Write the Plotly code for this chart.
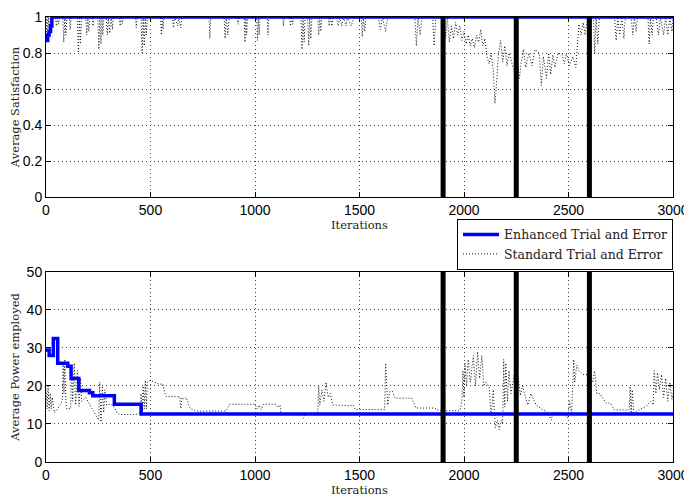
import plotly.graph_objects as go
from plotly.subplots import make_subplots

# ---------------- data ----------------
x_ticks = [0, 500, 1000, 1500, 2000, 2500, 3000]
sat_ticks = [0, 0.2, 0.4, 0.6, 0.8, 1]
sat_tick_labels = ["0", "0.2", "0.4", "0.6", "0.8", "1"]
pow_ticks = [0, 10, 20, 30, 40, 50]

event_iters = [1900, 2250, 2600]

enh_sat_x = [0, 8, 15, 22, 28, 3000]
enh_sat_y = [0.87, 0.90, 0.92, 0.95, 1.0, 1.0]

std_sat_x = [0, 5, 8, 12, 15, 20,
             45, 50, 55, 60, 65,
             80, 85, 90, 95, 100,
             112, 116, 120,
             150, 155, 160, 165, 170,
             190, 195, 200, 205, 210,
             222, 225, 230,
             248, 253, 258, 263, 268, 272, 276,
             288, 293, 298, 305, 312, 318, 322,
             350, 355, 360, 365, 370,
             428, 432, 436,
             455, 460, 465, 470, 475, 480, 485,
             548, 552, 556, 560, 564,
             605, 610, 615, 630, 635, 645, 650,
             780, 784, 788,
             852, 857, 862, 870, 876,
             915, 919, 923,
             948, 952, 956, 960, 964,
             1008, 1012, 1016, 1020, 1024,
             1058, 1062, 1066,
             1132, 1136, 1140,
             1165, 1170, 1175, 1180, 1185,
             1220, 1225, 1230, 1235, 1240,
             1252, 1257, 1262, 1267, 1272,
             1300, 1305, 1310, 1315, 1320,
             1350, 1355, 1360, 1368, 1374,
             1390, 1398, 1405, 1415, 1425, 1435, 1442, 1460, 1475,
             1508, 1513, 1518, 1525, 1530,
             1590, 1600, 1610, 1625, 1635,
             1765, 1772, 1780, 1790, 1800,
             1850, 1857, 1865,
             1905, 1912, 1920, 1930, 1940, 1950, 1960, 1970, 1980, 1990,
             2000, 2010, 2020, 2030, 2040, 2050, 2060, 2070, 2080, 2090, 2100,
             2110, 2120, 2130, 2140, 2148, 2155, 2165,
             2175, 2185, 2195, 2205, 2215, 2240,
             2252, 2258, 2265, 2275, 2285, 2295, 2310, 2325,
             2340, 2360, 2370, 2380, 2395, 2405, 2415, 2425, 2435, 2450,
             2470, 2480, 2490, 2505, 2520, 2535,
             2550, 2560, 2570, 2580, 2590,
             2620, 2625, 2632, 2640, 2648,
             2720, 2728, 2736, 2745, 2755, 2765, 2772,
             2800, 2808, 2815, 2823, 2830,
             2880, 2886, 2892, 2900, 2906,
             2920, 2930, 2940, 2955, 2965, 2975, 2985, 2995, 3000]
std_sat_y = [0.9, 1, 0.86, 1, 0.9, 1,
             1, 0.95, 1, 0.96, 1,
             1, 0.86, 1, 0.9, 1,
             1, 0.93, 1,
             1, 0.8, 1, 0.85, 1,
             1, 0.9, 1, 0.92, 1,
             1, 0.95, 1,
             1, 0.82, 1, 0.85, 1, 0.9, 1,
             1, 0.9, 1, 0.91, 1, 0.93, 1,
             1, 0.95, 1, 0.96, 1,
             1, 0.94, 1,
             1, 0.8, 1, 0.84, 1, 0.9, 1,
             1, 0.9, 1, 0.93, 1,
             1, 0.94, 1, 0.95, 1, 0.94, 1,
             1, 0.88, 1,
             1, 0.88, 1, 0.9, 1,
             1, 0.96, 1,
             1, 0.86, 1, 0.9, 1,
             1, 0.87, 1, 0.9, 1,
             1, 0.9, 1,
             1, 0.95, 1,
             1, 0.95, 1, 0.96, 1,
             1, 0.82, 1, 0.86, 1,
             1, 0.84, 1, 0.88, 1,
             1, 0.9, 1, 0.92, 1,
             1, 0.95, 1, 0.95, 1,
             1, 0.95, 1, 0.95, 1, 0.95, 1, 0.95, 1,
             1, 0.89, 1, 0.92, 1,
             1, 0.93, 1, 0.92, 1,
             1, 0.84, 1, 0.9, 1,
             1, 0.84, 1,
             1, 0.88, 1, 0.86, 0.95, 0.88, 0.97, 0.9, 0.95, 0.87,
             0.92, 0.85, 0.9, 0.84, 0.88, 0.83, 0.9, 0.86, 0.93, 0.84, 0.88,
             0.78, 0.74, 0.8, 0.7, 0.52, 0.62, 0.8,
             0.87, 0.75, 0.84, 0.73, 0.8, 0.7,
             0.6, 0.74, 0.66, 0.76, 0.82, 0.72, 0.8, 0.73,
             0.82, 0.8, 0.62, 0.78, 0.66, 0.8, 0.68, 0.79, 0.72, 0.8,
             0.79, 0.74, 0.8, 0.73, 0.78, 0.72,
             0.96, 0.9, 0.97, 0.9, 1,
             1, 0.8, 1, 0.85, 1,
             1, 0.87, 1, 0.9, 1, 0.88, 1,
             1, 0.9, 1, 0.92, 1,
             1, 0.85, 1, 0.9, 1,
             1, 0.9, 1, 0.9, 1, 0.9, 1, 0.92, 1]

enh_pow_x = [0, 15, 35, 56, 104, 120, 157, 208, 224, 327, 455, 3000]
enh_pow_y = [29.5, 28.0, 32.5, 26.0, 25.2, 22.0, 18.8, 18.2, 17.4, 15.2, 12.6, 12.6]

std_pow_x = [0, 5, 10, 15, 20, 25, 30, 40, 50,
             78, 82, 86, 90, 95, 100,
             118, 122, 128, 135, 142, 150, 158, 165, 170,
             190, 200,
             252, 257, 263, 270, 276, 282, 290,
             300, 320,
             340, 350, 430,
             450, 455, 460, 465, 470, 475, 480, 485,
             500, 540, 560, 565,
             575, 640, 645, 650, 660, 670,
             690, 720, 860,
             880, 1000, 1010, 1020, 1030, 1040, 1100, 1110, 1120,
             1125, 1220, 1232, 1240, 1290,
             1300, 1305, 1310, 1320, 1330, 1340, 1350, 1360, 1372,
             1380, 1450, 1470,
             1480, 1600, 1620, 1625, 1635, 1645, 1660,
             1670, 1750, 1770, 1860,
             1880, 1980, 1990, 1995, 2000, 2005, 2012, 2020, 2030, 2045, 2055, 2065, 2075, 2085, 2095, 2105,
             2120, 2130, 2140, 2150, 2160, 2168, 2178, 2185,
             2190, 2195, 2200, 2208, 2215, 2225,
             2240, 2250, 2260, 2270, 2280,
             2295, 2305, 2320, 2335, 2345,
             2370, 2400, 2418, 2425, 2460,
             2490, 2498, 2505, 2515, 2525, 2530, 2540, 2550,
             2570, 2600, 2615, 2625, 2635,
             2650, 2680, 2700,
             2720, 2790, 2795, 2800, 2805, 2812,
             2830, 2870, 2895, 2905,
             2910, 2918, 2926, 2935, 2945, 2955,
             2965, 2975, 2985, 2995, 3000]
std_pow_y = [19, 14, 20, 13.5, 18, 14, 17, 13, 13.5,
             16, 26, 18, 27, 16, 14,
             14, 25.5, 16, 26, 15, 24, 14.6, 22, 16,
             17, 16,
             11, 21, 10.5, 20, 13, 19, 15,
             15.2, 15,
             13, 12.5, 12.5,
             13, 18, 13.5, 20, 14, 21.5, 14, 21,
             21.5, 20.5, 20.5, 19,
             17.2, 17.2, 14, 17, 16.5, 17,
             14, 13.4, 13.4,
             15.2, 15.2, 14, 15, 13.8, 15.2, 15.2, 14.3, 15,
             12.5, 12.5, 11.5, 12.5, 12.5,
             13, 20, 15, 19, 16, 21, 17, 18, 15,
             15, 14.8, 15,
             13.8, 13.8, 13.8, 26, 15, 18.5, 18.5,
             16.8, 16.8, 14.2, 14.2,
             13.5, 13.5, 16, 24, 17, 26, 20, 27, 21, 28, 20, 29, 22, 28, 20, 21,
             19.8, 12, 19, 9, 11, 8.5, 11, 10,
             27, 14.5, 26, 16, 24, 18,
             23, 18, 22, 17.5, 20,
             17, 15, 18, 16, 15,
             14, 13, 11, 13, 13,
             12, 11.5, 16, 13, 27, 21, 25.5, 24,
             23, 23, 21, 24, 18,
             18, 15.5, 15.5,
             13.7, 13.7, 19.8, 12.8, 19, 13,
             13.5, 14.6, 16, 15,
             24, 18, 23.5, 19, 23, 17,
             22, 16, 21, 16.5, 18]

# ---------------- figure ----------------
BLUE = "#0000ff"
STD_LINE = dict(color="#111111", width=1, dash="1px,2px")
fig = make_subplots(rows=2, cols=1, vertical_spacing=0.165)

# top panel
fig.add_trace(go.Scatter(x=std_sat_x, y=std_sat_y, mode="lines", line=STD_LINE,
                         name="Standard Trial and Error", showlegend=False),
              row=1, col=1)
fig.add_trace(go.Scatter(x=enh_sat_x, y=enh_sat_y, mode="lines", line_shape="hv",
                         line=dict(color=BLUE, width=3.5),
                         name="Enhanced Trial and Error", showlegend=False),
              row=1, col=1)
# bottom panel
fig.add_trace(go.Scatter(x=std_pow_x, y=std_pow_y, mode="lines", line=STD_LINE,
                         name="Standard Trial and Error", showlegend=True, legendrank=2),
              row=2, col=1)
fig.add_trace(go.Scatter(x=enh_pow_x, y=enh_pow_y, mode="lines", line_shape="hv",
                         line=dict(color=BLUE, width=3.5),
                         name="Enhanced Trial and Error", showlegend=True, legendrank=1),
              row=2, col=1)

# event markers (vertical thick lines)
for r, top in [(1, 1.0), (2, 50)]:
    for it in event_iters:
        fig.add_trace(go.Scatter(x=[it, it], y=[0, top], mode="lines",
                                 line=dict(color="black", width=5),
                                 showlegend=False, hoverinfo="skip"),
                      row=r, col=1)

tick_font = dict(family="Liberation Sans, Arial, sans-serif", size=14, color="black")
title_font = dict(family="DejaVu Serif, serif", size=11.5, color="#222222")

common_axis = dict(showline=True, linecolor="black", linewidth=1, mirror="ticks",
                   ticks="inside", ticklen=5, tickcolor="black",
                   showgrid=True, gridcolor="#444444", griddash="1px,3px", gridwidth=1,
                   zeroline=False, tickfont=tick_font, automargin=False,
                   ticklabeloverflow="allow")

for r in (1, 2):
    fig.update_xaxes(range=[0, 3000], tickvals=x_ticks, ticktext=[str(v) for v in x_ticks],
                     title=dict(text="Iterations", font=title_font, standoff=1),
                     row=r, col=1, **common_axis)
fig.update_yaxes(range=[0, 1], tickvals=sat_ticks, ticktext=sat_tick_labels,
                 title=dict(text="Average Satisfaction", font=title_font, standoff=4),
                 row=1, col=1, **common_axis)
fig.update_yaxes(range=[0, 50], tickvals=pow_ticks, ticktext=[str(v) for v in pow_ticks],
                 title=dict(text="Average Power employed", font=title_font, standoff=4),
                 row=2, col=1, **common_axis)

# The page body adds an 8px offset, so the figure is sized to fill the remaining window.
fig.update_layout(
    width=684, height=496,
    margin=dict(l=38, r=19, t=9, b=42, autoexpand=False),
    plot_bgcolor="white", paper_bgcolor="white",
    legend=dict(x=1, y=0.5461, xanchor="right", yanchor="top",
                bgcolor="white", bordercolor="black", borderwidth=1,
                font=dict(family="DejaVu Serif, serif", size=12.5, color="#222222"),
                tracegroupgap=0, itemwidth=36),
)
fig.update_yaxes(domain=[0.5955, 1.0], row=1, col=1)
fig.update_yaxes(domain=[0.0, 0.4270], row=2, col=1)

fig.write_html("out.html")
